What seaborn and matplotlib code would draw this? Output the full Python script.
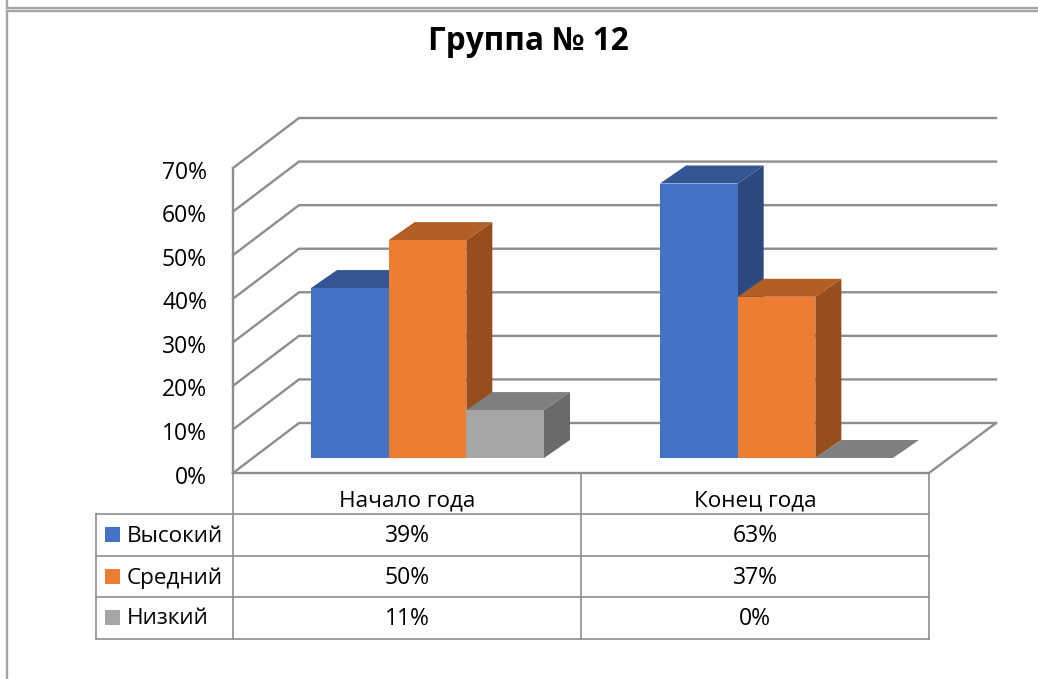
import pandas as pd
import seaborn as sns
import matplotlib.pyplot as plt
from matplotlib.patches import Polygon, Rectangle

periods = ['Начало года', 'Конец года']
levels = ['Высокий', 'Средний', 'Низкий']
vysokiy = [39, 63]
sredniy = [50, 37]
nizkiy = [11, 0]
y_ticks = [0, 10, 20, 30, 40, 50, 60, 70]
title = 'Группа № 12'

front_colors = ['#4472C4', '#ED7D31', '#A5A5A5']
top_colors = ['#335593', '#B25E25', '#7F7F7F']
side_colors = ['#2C4A80', '#964F1C', '#6A6A6A']
line_color = '#8E8E8E'

W, H = 1038, 679
PX_PER_PCT = 4.357
BASE_Y = 458
CAT0_X = 427.5
CAT_STEP = 349.0


def dx(px):
    return (px - CAT0_X) / CAT_STEP


def dy(py):
    return (BASE_Y - py) / PX_PER_PCT


def line(ax, xs, ys, lw=1.7, color=line_color, z=1):
    ax.plot([dx(x) for x in xs], [dy(y) for y in ys], color=color, lw=lw,
            solid_capstyle='projecting', solid_joinstyle='miter', zorder=z, clip_on=False)


df = pd.DataFrame({
    'period': periods * 3,
    'level': [levels[0]] * 2 + [levels[1]] * 2 + [levels[2]] * 2,
    'value': vysokiy + sredniy + nizkiy,
})

plt.rcParams['font.family'] = ['Open Sans', 'DejaVu Sans']
fig = plt.figure(figsize=(W / 100, H / 100), dpi=100)
ax = fig.add_axes([0, 0, 1, 1])

sns.barplot(data=df, x='period', y='value', hue='level', hue_order=levels,
            palette=front_colors, saturation=1, width=233 / CAT_STEP, gap=0,
            legend=False, ax=ax)
ax.set_xlim(dx(0), dx(W))
ax.set_ylim(dy(H), dy(0))
ax.axis('off')

# rame di pagina in alto a sinistra
line(ax, [7, 7], [0, 8], color='#A6A6A6')
line(ax, [7, W], [8, 8], color='#A6A6A6')
line(ax, [7, 7], [11, H], color='#A6A6A6')
line(ax, [7, W], [11, 11], color='#A6A6A6')

# pareti 3d con griglia
for t in y_ticks:
    y_front = 473 - t * PX_PER_PCT
    line(ax, [233, 299, 996], [y_front, y_front - 50, y_front - 50])
    ax.text(dx(207), dy(y_front + 4.5), f'{t}%', ha='right', va='center', fontsize=16.5, color='black')
line(ax, [233, 233], [168, 473])
line(ax, [233, 929, 996], [473, 473, 423])

# facce laterali e superiori delle barre
DEPTH_X = 26 / CAT_STEP
DEPTH_Y = 18 / PX_PER_PCT
for i, cont in enumerate(ax.containers):
    for bar in cont:
        x0, w, h = bar.get_x(), bar.get_width(), bar.get_height()
        z = 3 + i
        bar.set_zorder(z + 0.2)
        bar.set_linewidth(0)
        top = Polygon([(x0, h), (x0 + w, h), (x0 + w + DEPTH_X, h + DEPTH_Y), (x0 + DEPTH_X, h + DEPTH_Y)],
                      closed=True, fc=top_colors[i], ec='none', zorder=z + 0.1)
        side = Polygon([(x0 + w, 0), (x0 + w + DEPTH_X, DEPTH_Y), (x0 + w + DEPTH_X, h + DEPTH_Y), (x0 + w, h)],
                       closed=True, fc=side_colors[i], ec='none', zorder=z)
        ax.add_patch(side)
        ax.add_patch(top)

# tabella dati
for x in [233, 581, 929]:
    line(ax, [x, x], [473, 639], lw=1.2)
for y in [514, 556, 597, 639]:
    line(ax, [96, 929], [y, y], lw=1.2)
line(ax, [96, 96], [514, 639], lw=1.2)

for c, name in enumerate(periods):
    ax.text(dx(407 + c * 348), dy(501), name, ha='center', va='center', fontsize=16.2, color='black')

rows = [vysokiy, sredniy, nizkiy]
row_y = [536, 578, 619]
for r, name in enumerate(levels):
    ax.add_patch(Rectangle((dx(105), dy(row_y[r] + 6)), 15 / CAT_STEP, 15 / PX_PER_PCT,
                           fc=front_colors[r], ec='none', zorder=3))
    ax.text(dx(127), dy(row_y[r]), name, ha='left', va='center', fontsize=16.2, color='black')
    for c, v in enumerate(rows[r]):
        ax.text(dx(407 + c * 348), dy(row_y[r]), f'{v}%', ha='center', va='center', fontsize=16.5, color='black')

ax.text(dx(528), dy(41), title, ha='center', va='center', fontsize=22.7, fontweight='bold', color='black')

fig.savefig('out.png', dpi=100)
